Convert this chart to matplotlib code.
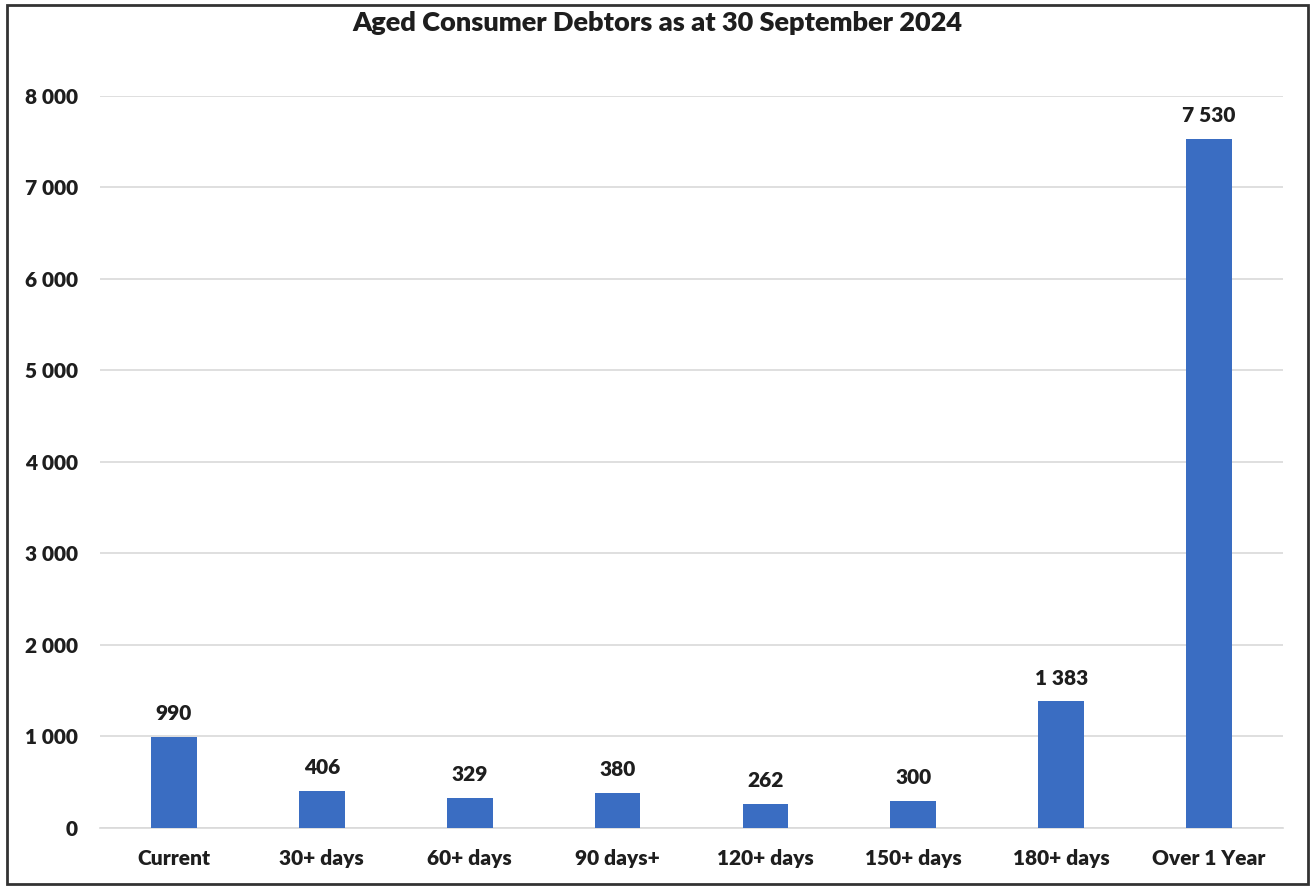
import matplotlib.pyplot as plt
from matplotlib.patches import Rectangle
from matplotlib.ticker import FuncFormatter

categories = ['Current', '30+ days', '60+ days', '90 days+', '120+ days',
              '150+ days', '180+ days', 'Over 1 Year']
debtors = [990, 406, 329, 380, 262, 300, 1383, 7530]
y_ticks = [0, 1000, 2000, 3000, 4000, 5000, 6000, 7000, 8000]


def space_thousands(v, pos=None):
    return f'{int(v):,}'.replace(',', ' ')


plt.rcParams['font.family'] = ['Lato', 'DejaVu Sans']
plt.rcParams['font.weight'] = 'heavy'

fig = plt.figure(figsize=(13.15, 8.88), dpi=100)
ax = fig.add_axes([0.076, 0.0676, 0.8997, 0.8244])

x = range(len(categories))
bars = ax.bar(x, debtors, width=0.31, color='#3a6dc2', zorder=3)

for rect, val in zip(bars, debtors):
    ax.annotate(space_thousands(val),
                (rect.get_x() + rect.get_width() / 2, rect.get_height()),
                xytext=(0, 10), textcoords='offset points',
                ha='center', va='bottom', fontsize=15, fontweight='heavy',
                color='#1e1e1e')

ax.set_xlim(-0.5, len(categories) - 0.5)
ax.set_ylim(0, 8000)
ax.set_yticks(y_ticks)
ax.yaxis.set_major_formatter(FuncFormatter(space_thousands))
ax.set_xticks(list(x))
ax.set_xticklabels(categories)
ax.tick_params(axis='both', length=0, labelsize=15, colors='#1e1e1e')
ax.tick_params(axis='x', pad=15)
ax.tick_params(axis='y', pad=16)
for lbl in ax.get_xticklabels() + ax.get_yticklabels():
    lbl.set_fontweight('heavy')

ax.grid(axis='y', color='#d9d9d9', linewidth=1.2, zorder=0)
for side in ['top', 'right', 'left']:
    ax.spines[side].set_visible(False)
ax.spines['bottom'].set_color('#d9d9d9')
ax.spines['bottom'].set_linewidth(1.2)

fig.text(0.5, 0.974, 'Aged Consumer Debtors as at 30 September 2024',
         ha='center', va='center', fontsize=19.5, fontweight='heavy',
         color='#1e1e1e')

# frame around the whole chart
fig.patches.append(Rectangle((0.005, 0.004), 0.99, 0.99, transform=fig.transFigure,
                             fill=False, edgecolor='#333333', linewidth=2))

fig.savefig('out.png', dpi=100)
